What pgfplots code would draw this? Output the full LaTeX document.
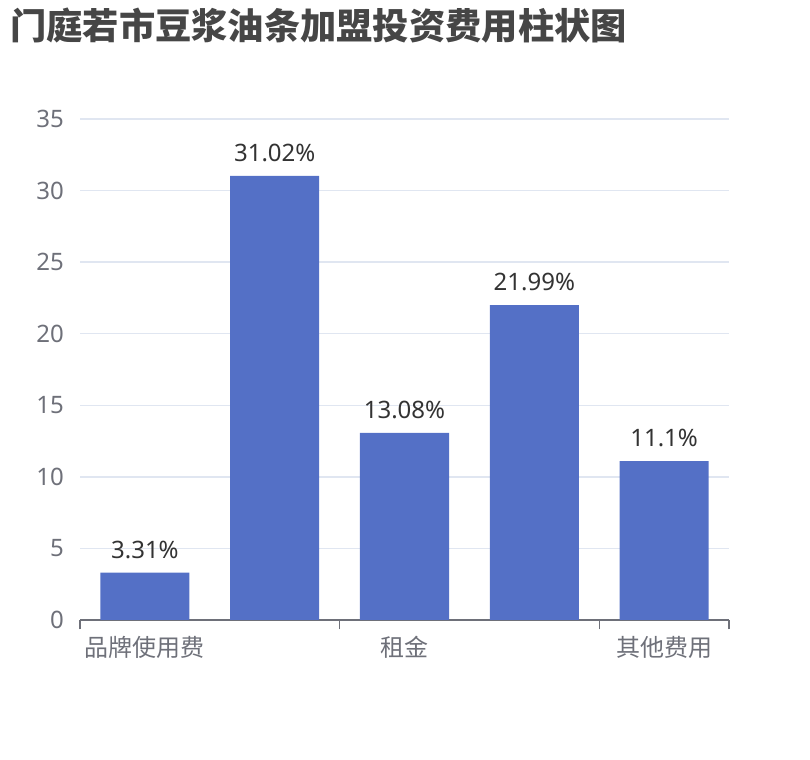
\documentclass[border=0pt]{standalone}
\usepackage{pgfplots}
\pgfplotsset{compat=1.18}
\usepackage{fontspec}
\setmainfont{Noto Sans}
\newfontfamily\cjk{Noto Sans CJK SC}
\definecolor{barblue}{HTML}{5470C6}
\definecolor{axisgray}{HTML}{6E7079}
\definecolor{gridgray}{HTML}{E0E6F1}
\definecolor{titlegray}{HTML}{464646}
\definecolor{labeldark}{HTML}{333333}
\begin{document}
\begin{tikzpicture}
\useasboundingbox (0,0) rectangle (607.5pt,570pt);
\node[anchor=west, inner sep=0pt, text=titlegray, font=\cjk\bfseries\fontsize{27.2pt}{31pt}\selectfont] at (7.5pt,550.5pt) {门庭若市豆浆油条加盟投资费用柱状图};
\begin{axis}[
  at={(60pt,105pt)}, anchor=south west,
  scale only axis, width=486.75pt, height=375.75pt,
  xmin=-0.5, xmax=4.5, ymin=0, ymax=35,
  ybar, bar width=0.686,
  ytick={0,5,...,35},
  xtick={0,2,4},
  xticklabels={{\cjk 品牌使用费},{\cjk 租金},{\cjk 其他费用}},
  extra x ticks={-0.5,1.5,3.5,4.5},
  extra x tick labels={},
  extra x tick style={major tick length=7pt, tick style={draw=axisgray, line width=1pt}, grid=none},
  major tick length=0pt,
  tick align=outside,
  xtick pos=bottom, ytick pos=left,
  ymajorgrids,
  grid style={gridgray, line width=1.1pt},
  axis lines*=left,
  x axis line style={draw=axisgray, line width=1.4pt},
  y axis line style={draw=none},
  ytick style={draw=none},
  /pgf/number format/assume math mode=true,
  tick label style={font=\fontsize{18pt}{21pt}\selectfont, text=axisgray},
  yticklabel style={inner sep=0pt, xshift=-12pt},
  xticklabel style={inner sep=0pt, yshift=-12pt},
  nodes near coords,
  point meta=explicit symbolic,
  every node near coord/.append style={anchor=south, inner sep=0pt, yshift=10.5pt, text=labeldark, font=\fontsize{18pt}{21pt}\selectfont},
  clip=false,
]
\addplot[fill=barblue, draw=none] coordinates {
  (0,3.31) [3.31\%]
  (1,31.02) [31.02\%]
  (2,13.08) [13.08\%]
  (3,21.99) [21.99\%]
  (4,11.1) [11.1\%]
};
\end{axis}
\end{tikzpicture}
\end{document}
